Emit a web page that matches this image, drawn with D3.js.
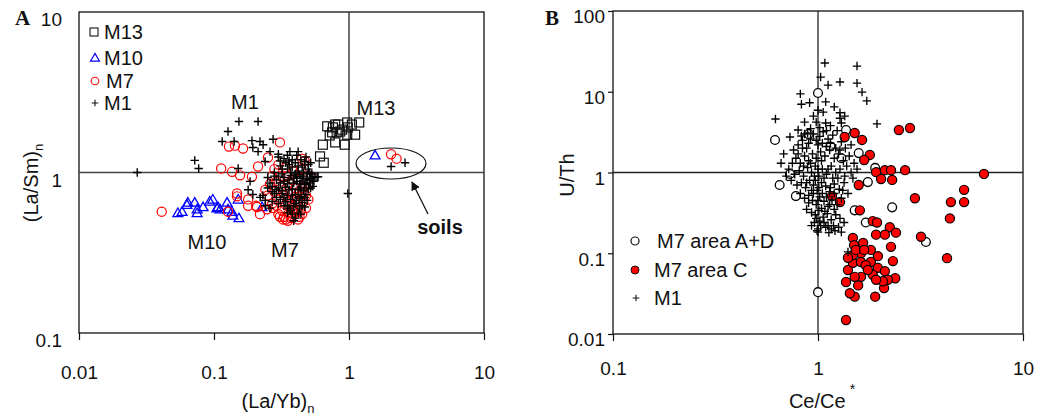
<!DOCTYPE html>
<html><head><meta charset="utf-8">
<script src="https://cdn.jsdelivr.net/npm/d3@7"></script>
<style>
html,body{margin:0;padding:0;background:#fff;}
svg{display:block;font-family:"Liberation Sans",Arial,sans-serif;}
</style></head>
<body>
<svg id="chart" width="1043" height="417"></svg>
<script>
// ---------- Panel A data : [(La/Yb)n, (La/Sm)n] ----------
const xTicksA = [0.01, 0.1, 1, 10];
const xTickLabelsA = ["0.01", "0.1", "1", "10"];
const yTicksA = [0.1, 1, 10];
const yTickLabelsA = ["0.1", "1", "10"];

const m13A = [[0.69,1.94],[0.79,1.99],[0.83,1.99],[0.97,2.05],[1.19,2.05],[1.05,1.99],[0.75,1.78],[0.81,1.78],[0.86,1.80],[0.97,1.72],[1.11,1.72],[0.64,1.49],[0.79,1.54],[0.93,1.49],[0.61,1.26],[0.65,1.15],[0.76,1.91],[0.98,1.91],[0.89,1.85],[0.72,1.70]];
const m10A = [[0.054,0.56],[0.063,0.63],[0.072,0.65],[0.075,0.59],[0.075,0.56],[0.083,0.61],[0.093,0.66],[0.098,0.68],[0.105,0.60],[0.111,0.59],[0.125,0.65],[0.127,0.59],[0.136,0.57],[0.151,0.68],[0.138,0.54],[0.153,0.52],[0.227,0.61],[0.058,0.57],[0.064,0.65],[0.107,0.61],[1.56,1.28]];
const m7A = [[0.041,0.57],[0.129,1.45],[0.143,1.47],[0.164,1.41],[0.308,1.54],[0.113,1.06],[0.136,1.01],[0.156,0.96],[0.191,0.94],[0.212,1.09],[0.148,0.71],[0.179,0.62],[0.205,0.62],[0.219,0.55],[0.127,0.57],[0.251,1.24],[0.449,1.22],[0.148,0.74],[0.179,0.68],[0.208,0.61],[0.324,0.51],[0.353,0.50],[0.308,0.53],[0.378,0.53],[0.274,0.60],[0.247,0.59],
 [0.27,0.95],[0.29,0.88],[0.31,0.82],[0.28,0.76],[0.33,0.72],[0.30,0.68],[0.35,0.66],[0.38,0.62],[0.41,0.60],[0.44,0.58],[0.36,0.56],[0.32,0.58],[0.40,0.55],[0.43,0.53],[0.46,0.66],[0.48,0.72],[0.45,0.80],[0.50,0.85],[0.42,0.90],[0.39,1.02],[0.34,1.08],[0.30,1.12],[0.47,1.18],[0.52,0.95],[0.37,0.75],[0.26,0.85],[0.29,0.62],[0.34,0.63],[0.39,0.70],[0.43,0.77],[0.25,0.72],[0.31,0.95],[0.36,0.86],[0.41,0.66],[0.37,0.52],[0.33,0.53],
 [0.30,0.55],[0.34,0.51],[0.39,0.57],[0.42,0.51],[0.45,0.55],[0.48,0.60],[0.50,0.68],[0.27,0.64],[0.24,0.78],[0.28,1.05],[0.35,0.95],[0.44,1.05],[0.40,0.80],[0.33,0.78],[0.38,0.90],[0.46,0.74],
 [2.05,1.30],[2.25,1.22]];
const m1A = [[0.153,2.08],[0.212,2.08],[0.127,1.80],[0.115,1.56],[0.141,1.56],[0.191,1.58],[0.219,1.56],[0.274,1.61],[0.194,1.43],[0.212,1.35],[0.072,1.19],[0.077,1.06],[0.151,1.06],[0.027,1.00],[0.239,1.17],[0.54,0.94],[0.59,0.94],[0.51,0.90],[0.98,0.74],
 [0.185,0.88],[0.179,0.78],[0.194,0.73],[0.231,1.49],[0.26,1.35],[0.365,1.35],[0.42,1.35],[0.47,1.17],[0.51,1.00],[0.58,0.94],
 [0.30,1.25],[0.33,1.22],[0.36,1.18],[0.40,1.15],[0.44,1.20],[0.47,1.12],[0.31,1.10],[0.35,1.05],[0.38,1.08],[0.42,1.02],[0.46,1.00],[0.50,1.05],[0.28,1.00],[0.32,0.98],[0.37,0.96],[0.41,0.94],[0.45,0.92],[0.49,0.90],[0.53,0.98],[0.29,0.90],[0.33,0.88],[0.36,0.90],[0.39,0.86],[0.43,0.85],[0.47,0.84],[0.51,0.86],[0.27,0.82],[0.30,0.80],[0.34,0.81],[0.38,0.79],[0.42,0.78],[0.46,0.77],[0.50,0.79],[0.28,0.74],[0.32,0.74],[0.35,0.72],[0.40,0.73],[0.44,0.71],[0.48,0.73],[0.31,0.68],[0.34,0.66],[0.37,0.68],[0.41,0.67],[0.45,0.65],[0.49,0.67],[0.33,0.62],[0.36,0.60],[0.39,0.62],[0.43,0.60],[0.47,0.61],[0.35,0.56],[0.38,0.55],[0.42,0.56],[0.40,0.52],[0.26,0.86],[0.25,0.93],[0.30,0.95],[0.37,1.00],[0.43,0.97],[0.52,0.92],[0.55,0.88],[0.54,0.82],[0.39,0.92],[0.35,0.85],[0.32,0.77],[0.44,0.88],[0.29,0.70],[0.27,0.66],[0.24,0.67],[0.23,0.72],[0.26,0.60],[0.48,1.25],[0.41,1.28],[0.52,1.15],
 [0.30,1.30],[0.34,1.15],[0.38,1.20],[0.45,1.08],[0.49,0.98],[0.28,0.95],[0.33,0.93],[0.40,0.98],[0.46,0.95],[0.31,0.86],[0.41,0.88],[0.48,0.86],[0.29,0.78],[0.36,0.78],[0.44,0.80],[0.52,0.80],[0.33,0.70],[0.38,0.72],[0.43,0.69],[0.47,0.70],[0.30,0.64],[0.35,0.62],[0.40,0.64],[0.45,0.62],[0.37,0.58],[0.44,0.55],[0.39,0.50],[0.42,1.10],[0.36,1.12],[0.32,1.05],[0.27,0.76],[0.25,0.80],[0.22,0.70],[0.24,0.62],[0.56,0.94],[0.50,1.12],[0.35,1.28],[0.31,1.18],
 [2.05,1.09],[2.60,1.15]];
const legendA = ["M13", "M10", "M7", "M1"];

// ---------- Panel B data : [Ce/Ce*, U/Th] ----------
const xTicksB = [0.1, 1, 10];
const xTickLabelsB = ["0.1", "1", "10"];
const yTicksB = [0.01, 0.1, 1, 10, 100];
const yTickLabelsB = ["0.01", "0.1", "1", "10", "100"];

const m7adB = [[1.0,9.66],[0.617,2.53],[0.73,0.96],[0.65,0.70],[0.78,0.51],[1.37,3.36],[1.58,1.74],[1.90,1.14],[1.75,0.76],[1.51,0.34],[1.71,0.24],[2.30,0.37],[3.36,0.138],[1.0,0.033],[1.15,2.1],[0.90,3.0],[1.30,1.5]];
const m7cB = [[2.48,3.36],[2.81,3.56],[1.51,3.08],[1.35,2.75],[1.64,2.53],[1.79,1.65],[1.68,1.43],[1.92,1.01],[2.12,1.07],[2.27,1.07],[2.66,1.07],[2.03,0.83],[2.30,0.81],[1.58,0.70],[2.97,0.48],[4.45,0.43],[5.16,0.61],[5.16,0.43],[4.40,0.27],[6.45,0.96],[1.17,0.51],[1.28,0.43],[1.60,0.34],[1.85,0.25],[1.94,0.24],[2.24,0.21],[2.40,0.18],[1.92,0.17],[2.12,0.17],[3.18,0.16],[1.48,0.155],[1.66,0.134],[2.27,0.12],[4.26,0.087],[2.32,0.080],[2.38,0.049],[2.10,0.037],[1.90,0.029],[1.51,0.029],[1.43,0.032],[1.37,0.044],[1.40,0.062],[1.81,0.11],[1.96,0.092],[1.62,0.10],[1.48,0.076],[1.62,0.078],[1.81,0.078],[1.96,0.066],[2.12,0.060],[1.85,0.054],[1.62,0.051],[1.51,0.051],[2.19,0.047],[2.07,0.045],[1.92,0.047],[1.37,0.0149],[1.50,0.126],[1.48,0.095],[1.71,0.071],[1.40,0.088],[1.53,0.11],[1.68,0.11],[1.75,0.062],[1.57,0.040]];
const m1B = [[1.08,22.7],[1.55,20.8],[1.03,15.2],[1.12,12.1],[1.28,13.2],[1.55,12.8],[1.64,9.9],[1.73,7.7],[0.82,9.4],[0.83,7.0],[0.91,7.3],[1.09,7.5],[1.0,5.9],[1.06,5.6],[1.28,5.5],[1.28,4.7],[0.62,4.6],[0.86,4.2],[0.98,4.2],[1.09,4.1],[1.30,4.1],[1.94,4.0],[0.80,3.36],[0.73,2.75],[0.83,2.83],[0.89,3.08],[1.0,0.183],[1.30,0.183],[1.40,0.104],
 [1.20,6.5],[1.35,5.0],[0.95,5.0],[1.15,3.8],
 [0.76,1.9],[0.80,2.2],[0.84,2.5],[0.88,2.0],[0.92,2.6],[0.95,3.0],[1.02,2.8],[1.06,3.2],[1.12,2.6],[1.18,2.9],[1.24,3.3],[1.30,2.4],[1.36,2.0],[0.78,1.5],[0.82,1.3],[0.86,1.6],[0.90,1.4],[0.94,1.7],[0.98,1.5],[1.03,1.8],[1.08,1.6],[1.14,1.9],[1.20,1.5],[1.26,1.7],[1.33,1.4],[1.42,1.6],[0.72,1.1],[0.77,0.95],[0.81,1.05],[0.85,0.9],[0.89,1.15],[0.93,1.0],[0.97,1.2],[1.01,0.9],[1.05,1.1],[1.10,0.95],[1.16,1.2],[1.22,1.0],[1.28,1.1],[1.35,0.9],[1.45,1.0],[0.74,0.80],[0.79,0.70],[0.83,0.75],[0.87,0.65],[0.91,0.80],[0.95,0.70],[0.99,0.60],[1.04,0.75],[1.09,0.68],[1.14,0.58],[1.20,0.72],[1.27,0.62],[1.34,0.75],[0.82,0.55],[0.86,0.48],[0.90,0.52],[0.94,0.45],[0.98,0.40],[1.02,0.50],[1.07,0.44],[1.12,0.38],[1.17,0.46],[1.24,0.40],[1.30,0.48],[0.88,0.35],[0.93,0.32],[0.97,0.30],[1.01,0.34],[1.06,0.28],[1.11,0.31],[1.16,0.26],[1.22,0.30],[1.28,0.27],[0.96,0.24],[1.03,0.22],[1.09,0.21],[1.19,0.22],[1.26,0.21],[1.34,0.24],[0.99,0.19],[1.13,0.18],[0.70,0.9],[0.66,1.3],[0.68,1.7],[1.00,2.2],[1.10,2.1],[1.45,2.2],[1.50,1.3],[1.55,1.1],[1.40,0.55],[1.48,0.85],
 [0.85,1.2],[0.92,1.3],[0.96,0.9],[1.00,1.1],[1.04,1.4],[1.07,0.85],[1.12,1.1],[1.18,0.85],[0.88,0.75],[0.93,0.6],[0.97,0.8],[1.01,0.65],[1.05,0.55],[1.10,0.5],[1.15,0.65],[0.90,0.42],[0.95,0.55],[1.00,0.45],[1.04,0.36],[1.08,0.33],[1.14,0.40],[1.20,0.35],[0.98,0.27],[1.02,0.25],[1.07,0.24],[1.12,0.22],[1.16,0.20],[1.21,0.19],[0.84,2.0],[0.90,2.3],[0.98,2.5],[1.05,2.3],[1.15,2.3],[1.22,2.0],[1.28,1.9],[1.38,1.2],[0.80,1.7],[0.75,1.3],[0.92,3.5],[1.02,3.6],[1.10,3.3],[0.86,3.0],[1.20,0.55],[1.25,0.85],[1.32,0.60],[0.93,0.22],[1.00,0.20]];
const legendB = ["M7 area A+D", "M7 area C", "M1"];

// ---------- drawing ----------
const svg = d3.select("#chart");
svg.append("rect").attr("width",1043).attr("height",417).attr("fill","#fff");
const FONT = 19;

function crossPath(s){ return `M${-s},0H${s}M0,${-s}V${s}`; }

// ===== Panel A =====
const xA = d3.scaleLog().domain([0.01,10]).range([79,484]);
const yA = d3.scaleLog().domain([0.1,10]).range([333,12]);
const gA = svg.append("g");

gA.append("rect").attr("x",xA.range()[0]).attr("y",yA.range()[1])
  .attr("width",xA.range()[1]-xA.range()[0]).attr("height",yA.range()[0]-yA.range()[1])
  .attr("fill","none").attr("stroke","#111").attr("stroke-width",1.3);
gA.append("line").attr("x1",xA(0.01)).attr("x2",xA(10)).attr("y1",yA(1)).attr("y2",yA(1)).attr("stroke","#444").attr("stroke-width",1.3);
gA.append("line").attr("x1",xA(1)).attr("x2",xA(1)).attr("y1",yA(10)).attr("y2",yA(0.1)).attr("stroke","#111").attr("stroke-width",1.2);

const axA = gA.append("g").attr("transform",`translate(0,${yA(0.1)})`)
  .call(d3.axisBottom(xA).tickValues(xTicksA).tickFormat((d,i)=>xTickLabelsA[i]).tickSize(7).tickPadding(26));
const ayA = gA.append("g").attr("transform",`translate(${xA(0.01)},0)`)
  .call(d3.axisLeft(yA).tickValues(yTicksA).tickFormat((d,i)=>yTickLabelsA[i]).tickSize(0).tickPadding(17));
[axA, ayA].forEach(a=>{
  a.select(".domain").remove();
  a.selectAll("line").attr("stroke","#111").attr("stroke-width",1.2);
  a.selectAll("text").attr("font-size",FONT).attr("fill","#111").attr("font-family","Liberation Sans, Arial, sans-serif");
});
ayA.selectAll("text").attr("dy","0.72em");

gA.append("g").selectAll("rect").data(m13A).join("rect")
  .attr("x",d=>xA(d[0])-4.5).attr("y",d=>yA(d[1])-4.5).attr("width",9).attr("height",9)
  .attr("fill","none").attr("stroke","#111").attr("stroke-width",1.2);
const tri = d3.symbol().type(d3.symbolTriangle).size(42);
gA.append("g").selectAll("path").data(m10A).join("path")
  .attr("d",tri).attr("transform",d=>`translate(${xA(d[0])},${yA(d[1])+0.8})`)
  .attr("fill","none").attr("stroke","#0000ff").attr("stroke-width",1.3);
gA.append("g").selectAll("circle").data(m7A).join("circle")
  .attr("cx",d=>xA(d[0])).attr("cy",d=>yA(d[1])).attr("r",4.6)
  .attr("fill","none").attr("stroke","#ff0000").attr("stroke-width",1.2);
gA.append("g").selectAll("path").data(m1A).join("path")
  .attr("d",crossPath(4.2)).attr("transform",d=>`translate(${xA(d[0])},${yA(d[1])})`)
  .attr("stroke","#000").attr("stroke-width",1.4);

// legend A
const legA = gA.append("g");
const legAy = [32, 58, 81, 103];
legA.append("rect").attr("x",90).attr("y",legAy[0]-4).attr("width",8).attr("height",8).attr("fill","none").attr("stroke","#111").attr("stroke-width",1.1);
legA.append("path").attr("d",d3.symbol().type(d3.symbolTriangle).size(34)).attr("transform",`translate(95,${legAy[1]+0.5})`).attr("fill","none").attr("stroke","#0000ff").attr("stroke-width",1.2);
legA.append("circle").attr("cx",95).attr("cy",legAy[2]).attr("r",3.8).attr("fill","none").attr("stroke","#ff0000").attr("stroke-width",1.1);
legA.append("path").attr("d",crossPath(3.3)).attr("transform",`translate(95,${legAy[3]})`).attr("stroke","#111").attr("stroke-width",1.1);
legA.selectAll("text.l").data(legendA).join("text").attr("class","l")
  .attr("x",(d,i)=>i===2?106:104).attr("y",(d,i)=>legAy[i]).attr("dy","0.36em")
  .attr("font-size",20).attr("fill","#111").text(d=>d);

const lblA = [["M1",245,102],["M13",376,108],["M10",207,242],["M7",285,250]];
gA.selectAll("text.g").data(lblA).join("text").attr("class","g")
  .attr("x",d=>d[1]).attr("y",d=>d[2]).attr("dy","0.36em").attr("text-anchor","middle")
  .attr("font-size",20).attr("fill","#111").text(d=>d[0]);
gA.append("ellipse").attr("cx",391).attr("cy",163.5).attr("rx",35).attr("ry",15.5)
  .attr("fill","none").attr("stroke","#111").attr("stroke-width",1.2);
svg.append("defs").append("marker").attr("id","arr").attr("viewBox","0 0 10 10").attr("refX",9).attr("refY",5)
  .attr("markerWidth",7).attr("markerHeight",7).attr("orient","auto")
  .append("path").attr("d","M0,0L10,5L0,10z").attr("fill","#111");
gA.append("line").attr("x1",428).attr("y1",214).attr("x2",412).attr("y2",182)
  .attr("stroke","#111").attr("stroke-width",1.3).attr("marker-end","url(#arr)");
gA.append("text").attr("x",440).attr("y",227).attr("dy","0.36em").attr("text-anchor","middle")
  .attr("font-size",20).attr("font-weight","bold").attr("fill","#111").text("soils");
gA.append("text").attr("x",15).attr("y",25).attr("font-family","Liberation Serif, Times New Roman, serif")
  .attr("font-size",21).attr("font-weight","bold").attr("fill","#111").text("A");

const tA = gA.append("text").attr("x",278).attr("y",408).attr("text-anchor","middle").attr("font-size",20).attr("fill","#111");
tA.append("tspan").text("(La/Yb)");
tA.append("tspan").attr("font-size",13).attr("dy",5).text("n");
const tAy = gA.append("text").attr("transform","translate(38,183) rotate(-90)").attr("text-anchor","middle").attr("font-size",20).attr("fill","#111");
tAy.append("tspan").text("(La/Sm)");
tAy.append("tspan").attr("font-size",13).attr("dy",5).text("n");

// ===== Panel B =====
const xB = d3.scaleLog().domain([0.1,10]).range([613,1023]);
const yB = d3.scaleLog().domain([0.01,100]).range([334,11]);
const gB = svg.append("g");
gB.append("rect").attr("x",xB.range()[0]).attr("y",yB.range()[1])
  .attr("width",xB.range()[1]-xB.range()[0]).attr("height",yB.range()[0]-yB.range()[1])
  .attr("fill","none").attr("stroke","#222").attr("stroke-width",1.4);
gB.append("line").attr("x1",xB(0.1)).attr("x2",xB(10)).attr("y1",yB(1)).attr("y2",yB(1)).attr("stroke","#222").attr("stroke-width",1.3);
gB.append("line").attr("x1",xB(1)).attr("x2",xB(1)).attr("y1",yB(100)).attr("y2",yB(0.01)).attr("stroke","#111").attr("stroke-width",1.2);

const axB = gB.append("g").attr("transform",`translate(0,${yB(0.01)})`)
  .call(d3.axisBottom(xB).tickValues(xTicksB).tickFormat((d,i)=>xTickLabelsB[i]).tickSize(7).tickPadding(21));
const ayB = gB.append("g").attr("transform",`translate(${xB(0.1)},0)`)
  .call(d3.axisLeft(yB).tickValues(yTicksB).tickFormat((d,i)=>yTickLabelsB[i]).tickSize(5).tickPadding(3));
[axB, ayB].forEach(a=>{
  a.select(".domain").remove();
  a.selectAll("line").attr("stroke","#111").attr("stroke-width",1.2);
  a.selectAll("text").attr("font-size",FONT).attr("fill","#111").attr("font-family","Liberation Sans, Arial, sans-serif");
});
ayB.selectAll("text").attr("dy","0.62em");

gB.append("g").selectAll("circle").data(m7adB).join("circle")
  .attr("cx",d=>xB(d[0])).attr("cy",d=>yB(d[1])).attr("r",4.4)
  .attr("fill","#fff").attr("stroke","#000").attr("stroke-width",1.3);
gB.append("g").selectAll("circle").data(m7cB).join("circle")
  .attr("cx",d=>xB(d[0])).attr("cy",d=>yB(d[1])).attr("r",4.6)
  .attr("fill","#ff0000").attr("stroke","#000").attr("stroke-width",1.2);
gB.append("g").selectAll("path").data(m1B).join("path")
  .attr("d",crossPath(4.2)).attr("transform",d=>`translate(${xB(d[0])},${yB(d[1])})`)
  .attr("stroke","#000").attr("stroke-width",1.35);

const legBy = [241, 270, 298];
const legB = gB.append("g");
legB.append("circle").attr("cx",635).attr("cy",legBy[0]).attr("r",4).attr("fill","#fff").attr("stroke","#111").attr("stroke-width",1.2);
legB.append("circle").attr("cx",635).attr("cy",legBy[1]).attr("r",4).attr("fill","#ff0000").attr("stroke","#111").attr("stroke-width",1);
legB.append("path").attr("d",crossPath(3.3)).attr("transform",`translate(636,${legBy[2]})`).attr("stroke","#111").attr("stroke-width",1.1);
legB.selectAll("text.l").data(legendB).join("text").attr("class","l")
  .attr("x",(d,i)=>i===0?657:654).attr("y",(d,i)=>legBy[i]).attr("dy","0.36em")
  .attr("font-size",20).attr("fill","#111").text(d=>d);

gB.append("text").attr("x",545).attr("y",25).attr("font-family","Liberation Serif, Times New Roman, serif")
  .attr("font-size",21).attr("font-weight","bold").attr("fill","#111").text("B");

const tB = gB.append("text").attr("x",822).attr("y",408).attr("text-anchor","middle").attr("font-size",20).attr("fill","#111");
tB.append("tspan").text("Ce/Ce");
tB.append("tspan").attr("font-size",14).attr("dx",4).attr("dy",-14).text("*");
gB.append("text").attr("transform","translate(574,175) rotate(-90)").attr("text-anchor","middle")
  .attr("font-size",20).attr("fill","#111").text("U/Th");
</script>
</body></html>
